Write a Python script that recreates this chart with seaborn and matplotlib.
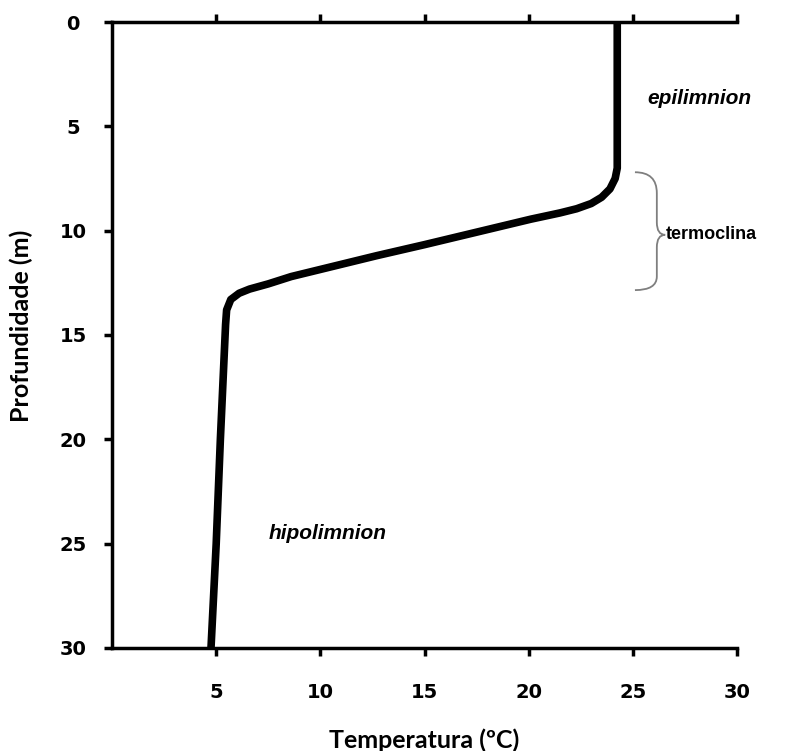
import matplotlib
matplotlib.use("Agg")
import matplotlib.pyplot as plt
from matplotlib.path import Path
from matplotlib.patches import PathPatch
import seaborn as sns
import pandas as pd

# Perfil de temperatura
depth = [0, 3, 7.0, 7.5, 8.0, 8.4, 8.7, 8.95, 9.15, 9.45, 10.67, 11.2, 12.2, 12.55, 12.8,
         13.0, 13.3, 13.8, 14.5, 20.0, 25.0, 30.0]
temp = [24.25, 24.25, 24.25, 24.15, 23.9, 23.5, 23.0, 22.3, 21.5, 20.1, 15.0, 12.7, 8.6, 7.5, 6.6,
        6.1, 5.7, 5.5, 5.45, 5.2, 5.0, 4.75]

x_ticks = [5, 10, 15, 20, 25, 30]
y_ticks = [0, 5, 10, 15, 20, 25, 30]

df = pd.DataFrame({"Temperatura": temp, "Profundidade": depth})

sns.set_style("white")
plt.rcParams['font.family'] = ['DejaVu Sans']
plt.rcParams['text.color'] = 'black'
plt.rcParams['axes.labelcolor'] = 'black'

fig = plt.figure(figsize=(8.02, 7.51), dpi=100)
ax = fig.add_axes([0.1397, 0.1372, 0.7793, 0.8335])

sns.lineplot(data=df, x="Temperatura", y="Profundidade", sort=False, estimator=None,
             color="black", linewidth=5.5, ax=ax)

ax.set_xlim(0, 30)
ax.set_ylim(30, 0)
ax.set_xticks(x_ticks)
ax.set_yticks(y_ticks)
ax.set_xticklabels([str(t) for t in x_ticks], fontsize=14, fontweight="bold")
ax.set_yticklabels([str(t) for t in y_ticks], fontsize=14, fontweight="bold")
for lbl in ax.get_yticklabels():
    lbl.set_horizontalalignment("center")

# Spines: esquerda, baixo e topo
for side in ["left", "bottom", "top"]:
    ax.spines[side].set_visible(True)
    ax.spines[side].set_linewidth(2.5)
    ax.spines[side].set_color("black")
ax.spines["right"].set_visible(False)

ax.tick_params(axis="x", which="both", bottom=True, top=True, labeltop=False,
               direction="out", length=6, width=2.5, pad=19, colors="black")
ax.tick_params(axis="y", which="both", left=True, right=False,
               direction="out", length=6, width=2.5, pad=22, colors="black")

ax.set_xlabel("Temperatura (ºC)", fontsize=18, fontweight="bold", color="black",
              family=["Lato", "DejaVu Sans"])
ax.set_ylabel("Profundidade (m)", fontsize=18, fontweight="bold", color="black",
              family=["Lato", "DejaVu Sans"])
ax.xaxis.set_label_coords(0.5, -0.128)
ax.yaxis.set_label_coords(-0.127, 0.515)

# Anotacoes
ann_font = ["Liberation Sans", "DejaVu Sans"]
ax.text(25.7, 3.65, "epilimnion", fontsize=15, fontweight="bold", style="italic",
        family=ann_font, color="black", va="center", ha="left", clip_on=False)
ax.text(7.5, 24.5, "hipolimnion", fontsize=15, fontweight="bold", style="italic",
        family=ann_font, color="black", va="center", ha="left", clip_on=False)
ax.text(26.6, 10.2, "termoclina", fontsize=13, fontweight="bold",
        family=ann_font, color="black", va="center", ha="left", clip_on=False)

# Chave da termoclina
verts = [(25.1, 7.2), (26.15, 7.2), (26.15, 8.2), (26.15, 9.6),
         (26.15, 10.2), (26.55, 10.2),
         (26.55, 10.2), (26.15, 10.2), (26.15, 10.8), (26.15, 12.2),
         (26.15, 12.85), (25.1, 12.85)]
codes = [Path.MOVETO, Path.CURVE3, Path.CURVE3, Path.LINETO,
         Path.CURVE3, Path.CURVE3,
         Path.MOVETO, Path.CURVE3, Path.CURVE3, Path.LINETO,
         Path.CURVE3, Path.CURVE3]
brace = PathPatch(Path(verts, codes), facecolor="none", edgecolor="#7f7f7f",
                  linewidth=1.3, clip_on=False)
ax.add_patch(brace)

fig.savefig("out.png", dpi=100)
